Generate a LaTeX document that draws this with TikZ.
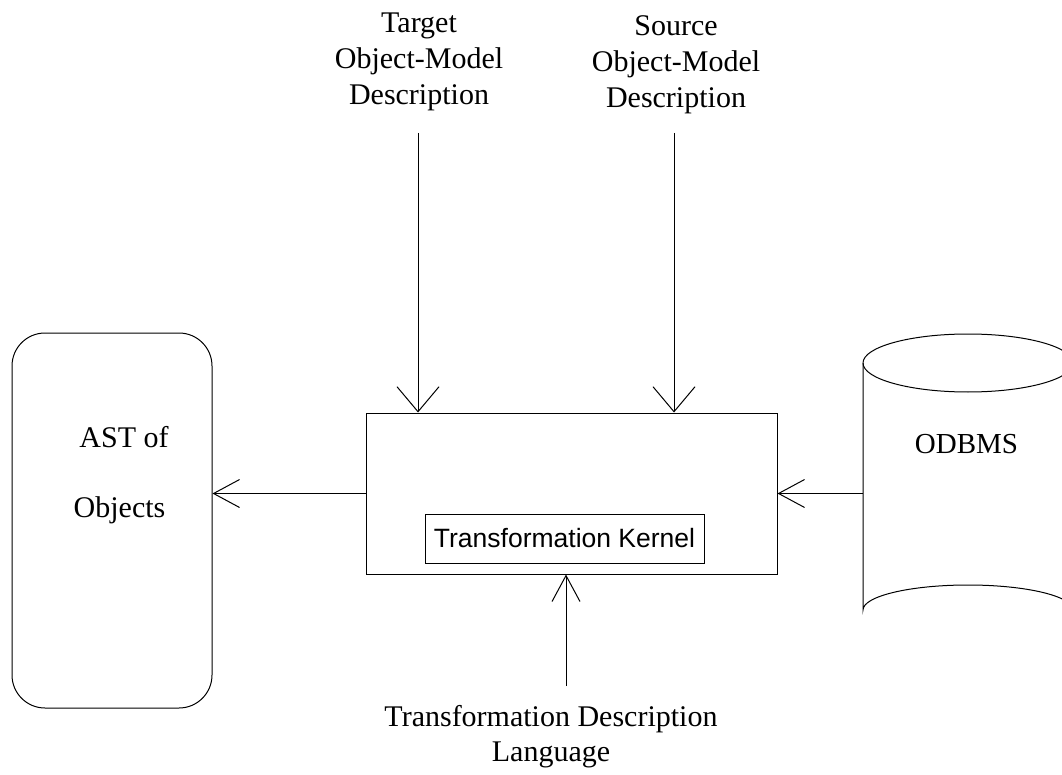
\documentclass[tikz,border=0pt]{standalone}
\usepackage{fontspec}
\setmainfont{Liberation Serif}
\newfontfamily\kernelfont{Liberation Sans}
\usetikzlibrary{arrows.meta}
\begin{document}
\begin{tikzpicture}[x=1pt,y=-1pt,line width=1pt,
  widehead/.style={-{Straight Barb[length=25pt,width=42pt]}},
  sidehead/.style={-{Straight Barb[length=26pt,width=28pt]}},
  lbl/.style={font=\fontsize{30}{36}\selectfont,align=center,inner sep=0pt},
  box/.style={draw,inner sep=0pt}]
\useasboundingbox (0,0) rectangle (1062,775);
\clip (0,0) rectangle (1062,775);

% central processing box with the kernel inside
\node[box,minimum width=411pt,minimum height=161pt] (kernel) at (571.5,493.5) {};
\node[box,font=\kernelfont\fontsize{26.5}{30}\selectfont,
      minimum width=279pt,minimum height=49pt] (tk) at (564.5,538.5) {Transformation Kernel};

% output: abstract syntax tree
\node[box,rounded corners=33pt,minimum width=200pt,minimum height=375pt] (ast) at (112,520.5) {};
\node[lbl,anchor=base] (astA) at (124,447) {AST of};
\node[lbl,anchor=base] (astB) at (119.5,517) {Objects};

% database cylinder
\coordinate (db) at (863,492);
\draw (863,363) -- (863,610) arc[start angle=180,end angle=360,x radius=105,y radius=25] -- (1073,363);
\draw (968,363) ellipse [x radius=105,y radius=29];
\node[lbl,font=\fontsize{29}{34}\selectfont,anchor=base] (odbms) at (966.5,453) {ODBMS};

% description inputs
\node[lbl,anchor=north] (tgt) at (419,12) {Target\\Object-Model\\Description};
\node[lbl,anchor=north] (src) at (676,15) {Source\\Object-Model\\Description};
\node[lbl,font=\fontsize{30}{35}\selectfont,anchor=north] (tdl) at (551,705) {Transformation Description\\Language};

\coordinate (ta) at (418,133);
\coordinate (sa) at (674,133);
\coordinate (ba) at (566,686);

\draw[widehead] (ta) -- (ta |- kernel.north);
\draw[widehead] (sa) -- (sa |- kernel.north);
\draw[sidehead] (ba) -- (ba |- kernel.south);
\draw[sidehead] (kernel.west) -- (kernel.west -| ast.east);
\draw[sidehead] (kernel.east -| db) -- (kernel.east);
\end{tikzpicture}
\end{document}
